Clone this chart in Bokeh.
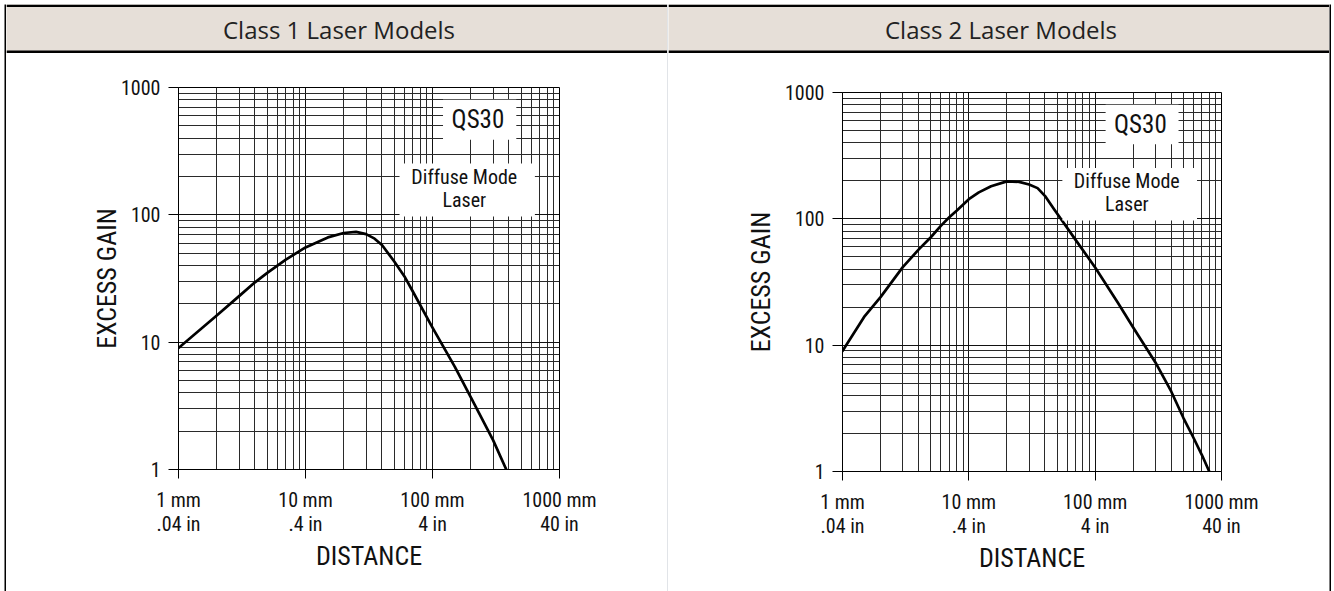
from bokeh.plotting import figure
from bokeh.models import FixedTicker, Label, BoxAnnotation, Span, Range1d, Spacer
from bokeh.layouts import row, column
from bokeh.embed import file_html
from bokeh.resources import INLINE
from bokeh.core.validation import silence
from bokeh.core.validation.warnings import MISSING_RENDERERS

silence(MISSING_RENDERERS, True)

# ---------------- data ----------------
panel_titles = ["Class 1 Laser Models", "Class 2 Laser Models"]

dist_class1 = [1, 2, 3, 4, 5, 7, 10, 15, 20, 25, 30, 35, 40, 50, 60, 70, 100, 150, 200, 300, 381]
gain_class1 = [9.0, 16.2, 23.0, 29.5, 35.0, 44.5, 55.5, 66.5, 72.0, 73.5, 70.5, 65.0, 58.0, 43.0, 33.0, 25.0, 13.0, 6.4, 3.7, 1.7, 1.0]

dist_class2 = [1, 1.5, 2, 3, 4, 5, 6, 7, 8, 10, 12, 15, 20, 25, 30, 35, 40, 47, 55, 68, 100, 150, 200, 300, 400, 500, 600, 700, 800]
gain_class2 = [9.0, 17.0, 24.0, 41.5, 57.0, 71.5, 88.0, 103, 116, 143, 162, 181, 198, 196, 187, 175, 152, 120, 96, 71, 41.2, 22.0, 13.8, 7.3, 4.3, 2.65, 1.85, 1.35, 1.0]

major_ticks = [1, 10, 100, 1000]
x_tick_labels = ["1 mm\n.04 in", "10 mm\n.4 in", "100 mm\n4 in", "1000 mm\n40 in"]
y_tick_labels = ["1", "10", "100", "1000"]
x_label = "DISTANCE"
y_label = "EXCESS GAIN"
model_label = "QS30"
mode_label = ["Diffuse Mode", "Laser"]

# ---------------- style ----------------
CHART_FONT = "Roboto Condensed, DejaVu Sans Condensed, sans-serif"
HEAD_FONT = "Open Sans"
BEIGE = "#e6dfd8"
DIVIDER = "#c3cad2"
minor_ticks = [m * 10 ** k for k in range(3) for m in range(2, 10)]

TOP_GAP = 4
LEFT_GAP = 4
HEAD_H = 49
CHART_H = 538
COL_W = 661


def no_align(p):
    try:
        p.frame_align = False
    except Exception:
        pass


def header(title, width):
    h = figure(width=width, height=HEAD_H, x_range=Range1d(0, width), y_range=Range1d(0, HEAD_H),
               min_border=0, toolbar_location=None, output_backend="svg",
               x_axis_location=None, y_axis_location=None)
    no_align(h)
    h.grid.visible = False
    h.background_fill_color = BEIGE
    h.border_fill_color = BEIGE
    h.outline_line_color = None
    h.add_layout(Span(location=HEAD_H - 1.3, dimension="width", line_color="black", line_width=2.6))
    h.add_layout(Span(location=1.5, dimension="width", line_color="black", line_width=3))
    h.add_layout(Label(x=width / 2 + 2, y=24.5, text=title, text_align="center",
                       text_baseline="middle", text_font=HEAD_FONT, text_font_size="24px",
                       text_color="#222222"))
    return h


def chart(dist, gain, left, frame_w, right, top, frame_h, bottom, ylabel_standoff):
    p = figure(frame_width=frame_w, frame_height=frame_h,
               min_border_left=left, min_border_right=right,
               min_border_top=top, min_border_bottom=bottom,
               x_axis_type="log", y_axis_type="log",
               x_range=Range1d(1, 1000), y_range=Range1d(1, 1000),
               toolbar_location=None, output_backend="svg")
    no_align(p)
    p.background_fill_color = "white"
    p.border_fill_color = "white"
    p.outline_line_color = "black"
    p.outline_line_width = 1

    for ax in (p.xaxis[0], p.yaxis[0]):
        ax.ticker = FixedTicker(ticks=major_ticks, minor_ticks=minor_ticks)
        ax.major_tick_in = 0
        ax.minor_tick_in = 0
        ax.minor_tick_out = 0
        ax.axis_line_color = "black"
        ax.major_tick_line_color = "black"
        ax.major_label_text_font = CHART_FONT
        ax.major_label_text_font_size = "20px"
        ax.major_label_text_color = "#111111"
        ax.axis_label_text_font = CHART_FONT
        ax.axis_label_text_font_size = "26px"
        ax.axis_label_text_font_style = "normal"
        ax.axis_label_text_color = "#111111"

    xo = {}
    for t, s in zip(major_ticks, x_tick_labels):
        xo[t] = s
        xo[str(t)] = s
    yo = {}
    for t, s in zip(major_ticks, y_tick_labels):
        yo[t] = s
        yo[str(t)] = s

    p.xaxis.major_label_overrides = xo
    p.xaxis.major_tick_out = 9
    p.xaxis.major_label_standoff = 9
    p.xaxis.major_label_text_line_height = 1.0
    p.xaxis.axis_label = x_label
    p.xaxis.axis_label_standoff = 2

    p.yaxis.major_label_overrides = yo
    p.yaxis.major_tick_out = 10
    p.yaxis.major_label_standoff = 8
    p.yaxis.axis_label = y_label
    p.yaxis.axis_label_standoff = ylabel_standoff

    for g in (p.xgrid[0], p.ygrid[0]):
        g.ticker = FixedTicker(ticks=major_ticks, minor_ticks=minor_ticks)
        g.grid_line_color = "#111111"
        g.grid_line_width = 1
        g.minor_grid_line_color = "#2a2a2a"
        g.minor_grid_line_width = 1

    # white label boxes
    p.add_layout(BoxAnnotation(left=121, right=457, bottom=389, top=800, fill_color="white",
                               fill_alpha=1, line_color=None))
    p.add_layout(BoxAnnotation(left=55, right=640, bottom=97, top=253, fill_color="white",
                               fill_alpha=1, line_color=None))
    p.add_layout(Label(x=228, y=560, text=model_label, text_align="center", text_baseline="middle",
                       text_font=CHART_FONT, text_font_size="25px", text_color="#111111"))
    p.add_layout(Label(x=178, y=200, text=mode_label[0], text_align="center", text_baseline="middle",
                       text_font=CHART_FONT, text_font_size="20px", text_color="#111111"))
    p.add_layout(Label(x=178, y=130, text=mode_label[1], text_align="center", text_baseline="middle",
                       text_font=CHART_FONT, text_font_size="20px", text_color="#111111"))

    p.line(dist, gain, line_color="black", line_width=2.7, line_join="round", line_cap="round")
    return p


def bar(width, height, color):
    b = figure(width=width, height=height, min_border=0, toolbar_location=None,
               output_backend="svg", x_axis_location=None, y_axis_location=None)
    no_align(b)
    b.grid.visible = False
    b.background_fill_color = color
    b.border_fill_color = color
    b.outline_line_color = None
    return b


h1 = header(panel_titles[0], COL_W)
h2 = header(panel_titles[1], COL_W)
p1 = chart(dist_class1, gain_class1, left=172, frame_w=381, right=COL_W - 172 - 381,
           top=34, frame_h=382, bottom=CHART_H - 34 - 382, ylabel_standoff=-4)
p2 = chart(dist_class2, gain_class2, left=174, frame_w=379, right=COL_W - 174 - 379,
           top=39, frame_h=379, bottom=CHART_H - 39 - 379, ylabel_standoff=6)

FULL_H = HEAD_H + CHART_H
body = row(Spacer(width=LEFT_GAP, height=FULL_H),
           bar(2, FULL_H, "black"), column(h1, p1), bar(1, FULL_H, DIVIDER),
           column(h2, p2), bar(2, FULL_H, "black"))
layout = column(Spacer(width=10, height=TOP_GAP), body)

open("out.html", "w").write(file_html(layout, INLINE))
